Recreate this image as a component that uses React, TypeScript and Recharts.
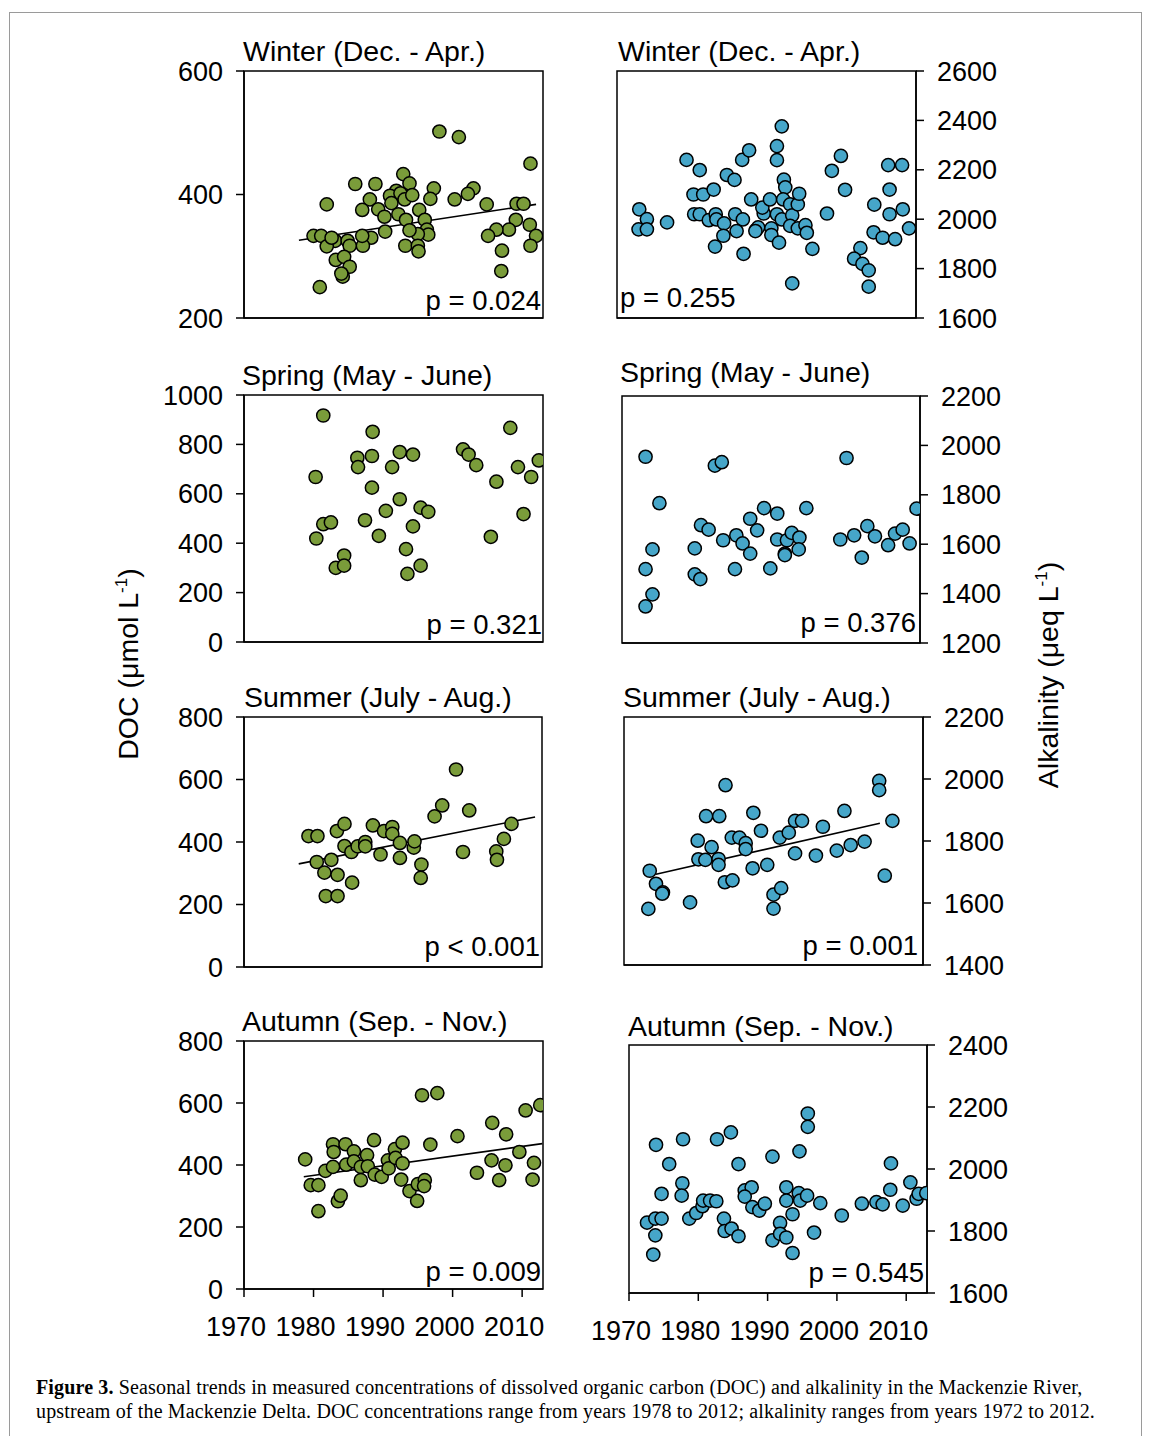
import React from 'react';
import { ScatterChart, Scatter, XAxis, YAxis, ReferenceArea, ReferenceLine } from 'recharts';

const FONT = '"Liberation Sans", Arial, sans-serif';
const GREEN = '#7a9c3a';
const BLUE = '#46a6c9';

const yearTicks = [1970, 1980, 1990, 2000, 2010];
const yearDomain: [number, number] = [1970, 2013];

// ---------- Winter DOC ----------
const winterDocYear = [1998.1, 2000.9, 2011.2, 1992.9, 1993.8, 1986.0, 1988.9, 1997.3, 2003.0, 2002.2, 1996.8, 1991.9, 1991.0, 1992.5, 1993.1, 1994.2, 1988.1, 1991.2, 2000.3, 1981.9, 1987.0, 1989.3, 1995.2, 2004.9, 2009.2, 2010.2, 1990.2, 1992.2, 1993.3, 1996.0, 1996.3, 1996.5, 1995.0, 1993.8, 1990.3, 1988.3, 1987.1, 1987.0, 1993.2, 1995.0, 1995.1, 2009.1, 2011.1, 2008.1, 2006.3, 2005.1, 2012.0, 2011.2, 2007.1, 2007.0, 1980.0, 1981.1, 1983.1, 1981.9, 1984.9, 1985.2, 1983.2, 1984.4, 1985.2, 1984.2, 1980.9, 1984.0, 1982.6];
const winterDocValue = [502, 493, 450, 433, 418, 417, 417, 410, 410, 401, 393, 406, 398, 402, 392, 399, 392, 386, 392, 384, 375, 376, 375, 384, 385, 385, 364, 368, 359, 359, 343, 335, 336, 342, 340, 330, 317, 333, 317, 317, 308, 359, 351, 343, 343, 333, 333, 317, 309, 276, 333, 333, 325, 316, 325, 317, 294, 299, 283, 267, 250, 272, 330];
const winterDocTrendYear = [1977.9, 2012.0];
const winterDocTrendValue = [326, 384];

// ---------- Winter alkalinity ----------
const winterAlkYear = [1973.2, 1974.3, 1973.1, 1974.3, 1977.2, 1980.0, 1981.9, 1981.0, 1982.4, 1983.9, 1981.1, 1981.9, 1983.2, 1984.2, 1984.3, 1985.4, 1985.3, 1984.1, 1985.8, 1986.9, 1988.0, 1989.0, 1987.0, 1988.1, 1987.2, 1988.2, 1989.3, 1990.0, 1990.3, 1991.1, 1990.9, 1992.0, 1992.2, 1992.2, 1993.3, 1993.7, 1993.0, 1993.0, 1994.0, 1994.2, 1993.0, 1993.9, 1993.7, 1994.9, 1995.2, 1996.0, 1996.2, 1994.9, 1996.0, 1997.1, 1997.3, 1998.1, 1995.2, 2000.2, 2000.9, 2002.2, 2002.8, 2005.0, 2004.1, 2005.3, 2006.2, 2006.2, 2007.0, 2006.9, 2008.2, 2009.2, 2009.2, 2009.0, 2011.0, 2011.1, 2010.0, 2012.0, 1989.9];
const winterAlkValue = [2040, 2000, 1959, 1959, 1987, 2240, 2199, 2100, 2100, 2120, 2020, 2020, 1996, 2020, 1999, 1983, 1933, 1889, 2179, 2159, 2240, 2279, 2020, 1999, 1952, 1860, 2080, 1956, 1967, 2023, 2047, 2080, 1963, 1936, 1905, 2376, 2296, 2239, 2160, 2129, 2020, 2080, 1999, 2060, 2016, 2060, 2103, 1973, 1963, 1976, 1945, 1880, 1740, 2023, 2196, 2256, 2119, 1883, 1840, 1819, 1793, 1727, 2059, 1947, 1925, 2120, 2020, 2219, 2219, 2040, 1919, 1963, 1952];

// ---------- Spring DOC ----------
const springDocYear = [1981.4, 1980.3, 1988.5, 1986.3, 1986.4, 1988.4, 1988.4, 1992.4, 1991.3, 1994.3, 1992.4, 1990.4, 1987.4, 1989.4, 1995.4, 1996.5, 1994.3, 1993.3, 1995.4, 1993.5, 1981.4, 1982.5, 1980.4, 1984.4, 1983.2, 1984.4, 2001.5, 2002.3, 2003.4, 2008.3, 2009.4, 2012.4, 2011.3, 2006.3, 2010.2, 2005.5];
const springDocValue = [917, 668, 851, 746, 708, 753, 625, 769, 708, 759, 578, 531, 493, 430, 544, 527, 468, 376, 309, 276, 477, 484, 419, 350, 300, 309, 780, 759, 716, 867, 708, 735, 668, 649, 518, 426];

// ---------- Spring alkalinity ----------
const springAlkYear = [1973.4, 1975.4, 1974.4, 1973.4, 1974.4, 1973.4, 1983.4, 1984.4, 1980.5, 1980.5, 1981.3, 1981.4, 1982.5, 1984.6, 1986.5, 1987.4, 1988.5, 1986.3, 1988.5, 1989.5, 1990.5, 1992.4, 1992.4, 1991.4, 1993.5, 1993.8, 1994.5, 1995.6, 1995.5, 1993.5, 1996.6, 2001.5, 2002.4, 2003.5, 2004.6, 2005.4, 2006.5, 2008.4, 2009.4, 2010.5, 2011.5, 2012.5];
const springAlkValue = [1954, 1766, 1579, 1499, 1397, 1348, 1918, 1932, 1583, 1478, 1459, 1677, 1659, 1616, 1636, 1603, 1562, 1499, 1703, 1656, 1746, 1724, 1619, 1502, 1562, 1616, 1646, 1627, 1579, 1556, 1746, 1619, 1949, 1636, 1546, 1673, 1632, 1596, 1643, 1659, 1603, 1744];

// ---------- Summer DOC ----------
const summerDocYear = [1979.3, 1980.6, 1980.5, 1982.6, 1981.6, 1983.5, 1981.8, 1983.5, 1985.6, 1983.4, 1984.5, 1984.5, 1985.5, 1986.4, 1987.5, 1987.5, 1988.6, 1989.7, 1990.2, 1991.4, 1991.4, 1992.5, 1992.5, 1994.5, 1994.6, 1995.6, 1995.5, 1997.5, 1998.6, 2000.6, 2002.5, 2001.6, 2006.4, 2006.5, 2007.5, 2008.6];
const summerDocValue = [419, 419, 336, 343, 302, 295, 227, 227, 270, 435, 458, 387, 368, 386, 400, 386, 453, 360, 435, 448, 426, 397, 349, 382, 402, 328, 285, 482, 517, 632, 501, 368, 370, 343, 410, 458];
const summerDocTrendYear = [1977.9, 2012.0];
const summerDocTrendValue = [330, 480];

// ---------- Summer alkalinity ----------
const summerAlkYear = [1973.7, 1974.6, 1975.6, 1975.5, 1973.5, 1979.5, 1980.6, 1980.7, 1981.7, 1981.8, 1983.7, 1982.6, 1983.6, 1983.6, 1984.6, 1985.5, 1986.6, 1987.5, 1987.5, 1984.5, 1985.6, 1988.6, 1989.7, 1988.5, 1990.6, 1991.5, 1992.6, 1991.5, 1992.4, 1993.7, 1994.6, 1995.6, 1994.6, 1997.6, 1998.6, 2000.6, 2001.7, 2002.6, 2004.6, 2006.7, 2006.7, 2007.5, 2008.6];
const summerAlkValue = [1704, 1662, 1634, 1630, 1581, 1602, 1801, 1741, 1739, 1880, 1880, 1780, 1742, 1723, 1980, 1811, 1811, 1793, 1774, 1667, 1673, 1891, 1833, 1712, 1723, 1627, 1648, 1582, 1811, 1827, 1865, 1865, 1760, 1753, 1846, 1769, 1897, 1787, 1798, 1994, 1964, 1688, 1865];
const summerAlkTrendYear = [1974.6, 2006.8];
const summerAlkTrendValue = [1693, 1857];

// ---------- Autumn DOC ----------
const autumnDocYear = [1978.8, 1979.6, 1980.7, 1980.7, 1981.7, 1982.8, 1982.9, 1982.8, 1983.5, 1983.9, 1984.6, 1984.7, 1985.8, 1985.8, 1986.8, 1987.7, 1987.8, 1986.8, 1988.7, 1988.8, 1989.8, 1990.7, 1990.8, 1991.7, 1991.8, 1992.8, 1992.8, 1992.6, 1993.8, 1994.9, 1995.0, 1996.0, 1995.9, 1995.6, 1997.8, 1996.8, 2000.7, 2003.5, 2005.7, 2007.7, 2005.6, 2006.7, 2007.6, 2009.6, 2010.5, 2012.6, 2011.7, 2011.5];
const autumnDocValue = [418, 335, 335, 251, 381, 467, 442, 394, 283, 301, 467, 401, 444, 412, 394, 432, 396, 351, 480, 369, 362, 415, 389, 451, 423, 472, 405, 353, 316, 284, 338, 351, 332, 625, 632, 466, 493, 375, 536, 499, 415, 351, 399, 442, 576, 593, 407, 353];
const autumnDocTrendYear = [1978.6, 2012.9];
const autumnDocTrendValue = [362, 469];

// ---------- Autumn alkalinity ----------
const autumnAlkYear = [1973.9, 1975.8, 1974.7, 1972.6, 1973.8, 1974.7, 1973.8, 1973.5, 1977.8, 1977.7, 1977.6, 1978.7, 1979.7, 1980.6, 1980.7, 1981.7, 1982.6, 1982.7, 1984.7, 1985.8, 1983.7, 1983.8, 1984.8, 1985.8, 1986.7, 1987.7, 1986.7, 1987.8, 1988.8, 1989.6, 1990.7, 1992.7, 1992.7, 1994.5, 1994.7, 1995.7, 1993.6, 1991.8, 1990.7, 1991.8, 1992.7, 1993.6, 1994.6, 1995.8, 1995.8, 1996.7, 1997.6, 2000.7, 2003.6, 2005.7, 2006.6, 2007.7, 2007.8, 2009.5, 2010.6, 2011.5, 2011.8, 2012.9];
const autumnAlkValue = [2078, 2016, 1920, 1827, 1840, 1840, 1786, 1724, 2096, 1954, 1914, 1840, 1858, 1880, 1898, 1898, 1896, 2096, 2118, 2016, 1840, 1800, 1808, 1783, 1931, 1941, 1911, 1877, 1866, 1888, 2040, 1941, 1898, 1922, 1898, 1914, 1854, 1826, 1770, 1791, 1779, 1729, 2057, 2136, 2179, 1795, 1890, 1850, 1888, 1893, 1886, 1933, 2018, 1882, 1957, 1904, 1920, 1922];

const zip = (xs: number[], ys: number[]) => xs.map((x, i) => ({ x, y: ys[i] }));

type PanelCfg = {
  left: number; top: number; pw: number; ph: number;
  side: 'left' | 'right';
  yDomain: [number, number]; yTicks: number[];
  showX: boolean; color: string;
  data: { x: number; y: number }[];
  trend?: { x: number; y: number }[];
  title: string; titleX: number; titleBase: number;
  pText: string; pX: number; pBase: number; pAlign: 'left' | 'right';
};

const panels: PanelCfg[] = [
  { left: 244, top: 71, pw: 299, ph: 247, side: 'left', yDomain: [200, 600], yTicks: [200, 400, 600], showX: false, color: GREEN,
    data: zip(winterDocYear, winterDocValue), trend: zip(winterDocTrendYear, winterDocTrendValue),
    title: 'Winter (Dec. - Apr.)', titleX: 243, titleBase: 61, pText: 'p = 0.024', pX: 541, pBase: 310, pAlign: 'right' },
  { left: 617, top: 71, pw: 299, ph: 247, side: 'right', yDomain: [1600, 2600], yTicks: [1600, 1800, 2000, 2200, 2400, 2600], showX: false, color: BLUE,
    data: zip(winterAlkYear, winterAlkValue),
    title: 'Winter (Dec. - Apr.)', titleX: 618, titleBase: 61, pText: 'p = 0.255', pX: 620, pBase: 307, pAlign: 'left' },
  { left: 244, top: 395, pw: 299, ph: 247, side: 'left', yDomain: [0, 1000], yTicks: [0, 200, 400, 600, 800, 1000], showX: false, color: GREEN,
    data: zip(springDocYear, springDocValue),
    title: 'Spring (May - June)', titleX: 242, titleBase: 385, pText: 'p = 0.321', pX: 542, pBase: 634, pAlign: 'right' },
  { left: 622, top: 396, pw: 298, ph: 247, side: 'right', yDomain: [1200, 2200], yTicks: [1200, 1400, 1600, 1800, 2000, 2200], showX: false, color: BLUE,
    data: zip(springAlkYear, springAlkValue),
    title: 'Spring (May - June)', titleX: 620, titleBase: 382, pText: 'p = 0.376', pX: 916, pBase: 632, pAlign: 'right' },
  { left: 244, top: 717, pw: 298, ph: 250, side: 'left', yDomain: [0, 800], yTicks: [0, 200, 400, 600, 800], showX: false, color: GREEN,
    data: zip(summerDocYear, summerDocValue), trend: zip(summerDocTrendYear, summerDocTrendValue),
    title: 'Summer (July - Aug.)', titleX: 244, titleBase: 707, pText: 'p < 0.001', pX: 540, pBase: 956, pAlign: 'right' },
  { left: 624, top: 717, pw: 299, ph: 248, side: 'right', yDomain: [1400, 2200], yTicks: [1400, 1600, 1800, 2000, 2200], showX: false, color: BLUE,
    data: zip(summerAlkYear, summerAlkValue), trend: zip(summerAlkTrendYear, summerAlkTrendValue),
    title: 'Summer (July - Aug.)', titleX: 623, titleBase: 707, pText: 'p = 0.001', pX: 918, pBase: 955, pAlign: 'right' },
  { left: 244, top: 1041, pw: 299, ph: 248, side: 'left', yDomain: [0, 800], yTicks: [0, 200, 400, 600, 800], showX: true, color: GREEN,
    data: zip(autumnDocYear, autumnDocValue), trend: zip(autumnDocTrendYear, autumnDocTrendValue),
    title: 'Autumn (Sep. - Nov.)', titleX: 242, titleBase: 1031, pText: 'p = 0.009', pX: 541, pBase: 1281, pAlign: 'right' },
  { left: 629, top: 1045, pw: 298, ph: 248, side: 'right', yDomain: [1600, 2400], yTicks: [1600, 1800, 2000, 2200, 2400], showX: true, color: BLUE,
    data: zip(autumnAlkYear, autumnAlkValue),
    title: 'Autumn (Sep. - Nov.)', titleX: 628, titleBase: 1036, pText: 'p = 0.545', pX: 924, pBase: 1282, pAlign: 'right' },
];

const LINE = { stroke: '#000', strokeWidth: 1.5 };

const XTick = (props: any) => (
  <text x={props.x - 8} y={props.y} dy="0.71em" textAnchor="middle" fill="#000" fontSize={27} fontFamily={FONT}>
    {props.payload.value}
  </text>
);

const makeDot = (color: string) => (props: any) => (
  <circle cx={props.cx} cy={props.cy} r={6.6} fill={color} stroke="#000" strokeWidth={1.5} />
);

function Panel({ c }: { c: PanelCfg }) {
  const isLeft = c.side === 'left';
  const yw = isLeft ? 80 : 100;
  const mL = 50;
  const mR = 20;
  const ML = isLeft ? mL + yw : mL;
  const MR = isLeft ? mR : mR + yw;
  const MT = 20;
  const MB = 60;
  const W = c.pw + ML + MR;
  const H = c.ph + MT + MB;
  const ox = c.left - ML;
  const oy = c.top - MT;
  return (
    <div style={{ position: 'absolute', left: ox, top: oy }}>
      <ScatterChart width={W} height={H} margin={{ top: MT, right: mR, bottom: 20, left: mL }}>
        <XAxis
          type="number" dataKey="x" domain={yearDomain} ticks={yearTicks} allowDataOverflow interval={0}
          height={40} tickSize={8} tickMargin={20}
          tick={c.showX ? <XTick /> : false}
          axisLine={LINE} tickLine={LINE}
        />
        <YAxis
          type="number" dataKey="y" orientation={c.side} domain={c.yDomain} ticks={c.yTicks} allowDataOverflow interval={0}
          width={yw} tickSize={8} tickMargin={13}
          tick={{ fill: '#000', fontSize: 27, fontFamily: FONT }}
          axisLine={LINE} tickLine={LINE}
        />
        <ReferenceArea x1={yearDomain[0]} x2={yearDomain[1]} y1={c.yDomain[0]} y2={c.yDomain[1]}
          fill="none" fillOpacity={0} stroke="#000" strokeWidth={1.5} strokeOpacity={1} ifOverflow="visible" />
        {c.trend && (
          <ReferenceLine segment={c.trend} stroke="#000" strokeWidth={1.6} ifOverflow="visible" />
        )}
        <Scatter data={c.data} isAnimationActive={false} shape={makeDot(c.color)} />
      </ScatterChart>
      <div style={{
        position: 'absolute', left: c.titleX - ox, top: c.titleBase - 24.2 - oy,
        fontFamily: FONT, fontSize: 28.5, lineHeight: 1, whiteSpace: 'nowrap', color: '#000',
      }}>{c.title}</div>
      <div style={{
        position: 'absolute',
        ...(c.pAlign === 'right' ? { right: W - (c.pX - ox) } : { left: c.pX - ox }),
        top: c.pBase - 23.3 - oy,
        fontFamily: FONT, fontSize: 27.5, lineHeight: 1, whiteSpace: 'nowrap', color: '#000',
      }}>{c.pText}</div>
    </div>
  );
}

export default function App() {
  return (
    <div style={{ position: 'absolute', left: 0, top: 0, width: 1153, height: 1436, overflow: 'hidden', background: '#fff' }}>
      <div style={{ position: 'absolute', left: 9, top: 12, width: 1131, height: 1440, border: '1.5px solid #9a9a9a', borderBottom: 'none' }} />
      {panels.map((c, i) => <Panel key={i} c={c} />)}
      <div style={{
        position: 'absolute', left: 128, top: 664, transform: 'translate(-50%, -50%) rotate(-90deg)',
        fontFamily: FONT, fontSize: 28.5, whiteSpace: 'nowrap', lineHeight: 1, color: '#000',
      }}>
        DOC (μmol L<sup style={{ fontSize: 17, verticalAlign: 'super', lineHeight: 0 }}>-1</sup>)
      </div>
      <div style={{
        position: 'absolute', left: 1048, top: 675, transform: 'translate(-50%, -50%) rotate(-90deg)',
        fontFamily: FONT, fontSize: 28.5, whiteSpace: 'nowrap', lineHeight: 1, color: '#000',
      }}>
        Alkalinity (μeq L<sup style={{ fontSize: 17, verticalAlign: 'super', lineHeight: 0 }}>-1</sup>)
      </div>
      <div style={{
        position: 'absolute', left: 36, top: 1375, fontFamily: '"Liberation Serif", "Times New Roman", serif',
        fontSize: 20, letterSpacing: 0.15, lineHeight: '24px', whiteSpace: 'nowrap', color: '#000',
      }}>
        <div><b>Figure 3.</b> Seasonal trends in measured concentrations of dissolved organic carbon (DOC) and alkalinity in the Mackenzie River,</div>
        <div>upstream of the Mackenzie Delta. DOC concentrations range from years 1978 to 2012; alkalinity ranges from years 1972 to 2012.</div>
      </div>
    </div>
  );
}
